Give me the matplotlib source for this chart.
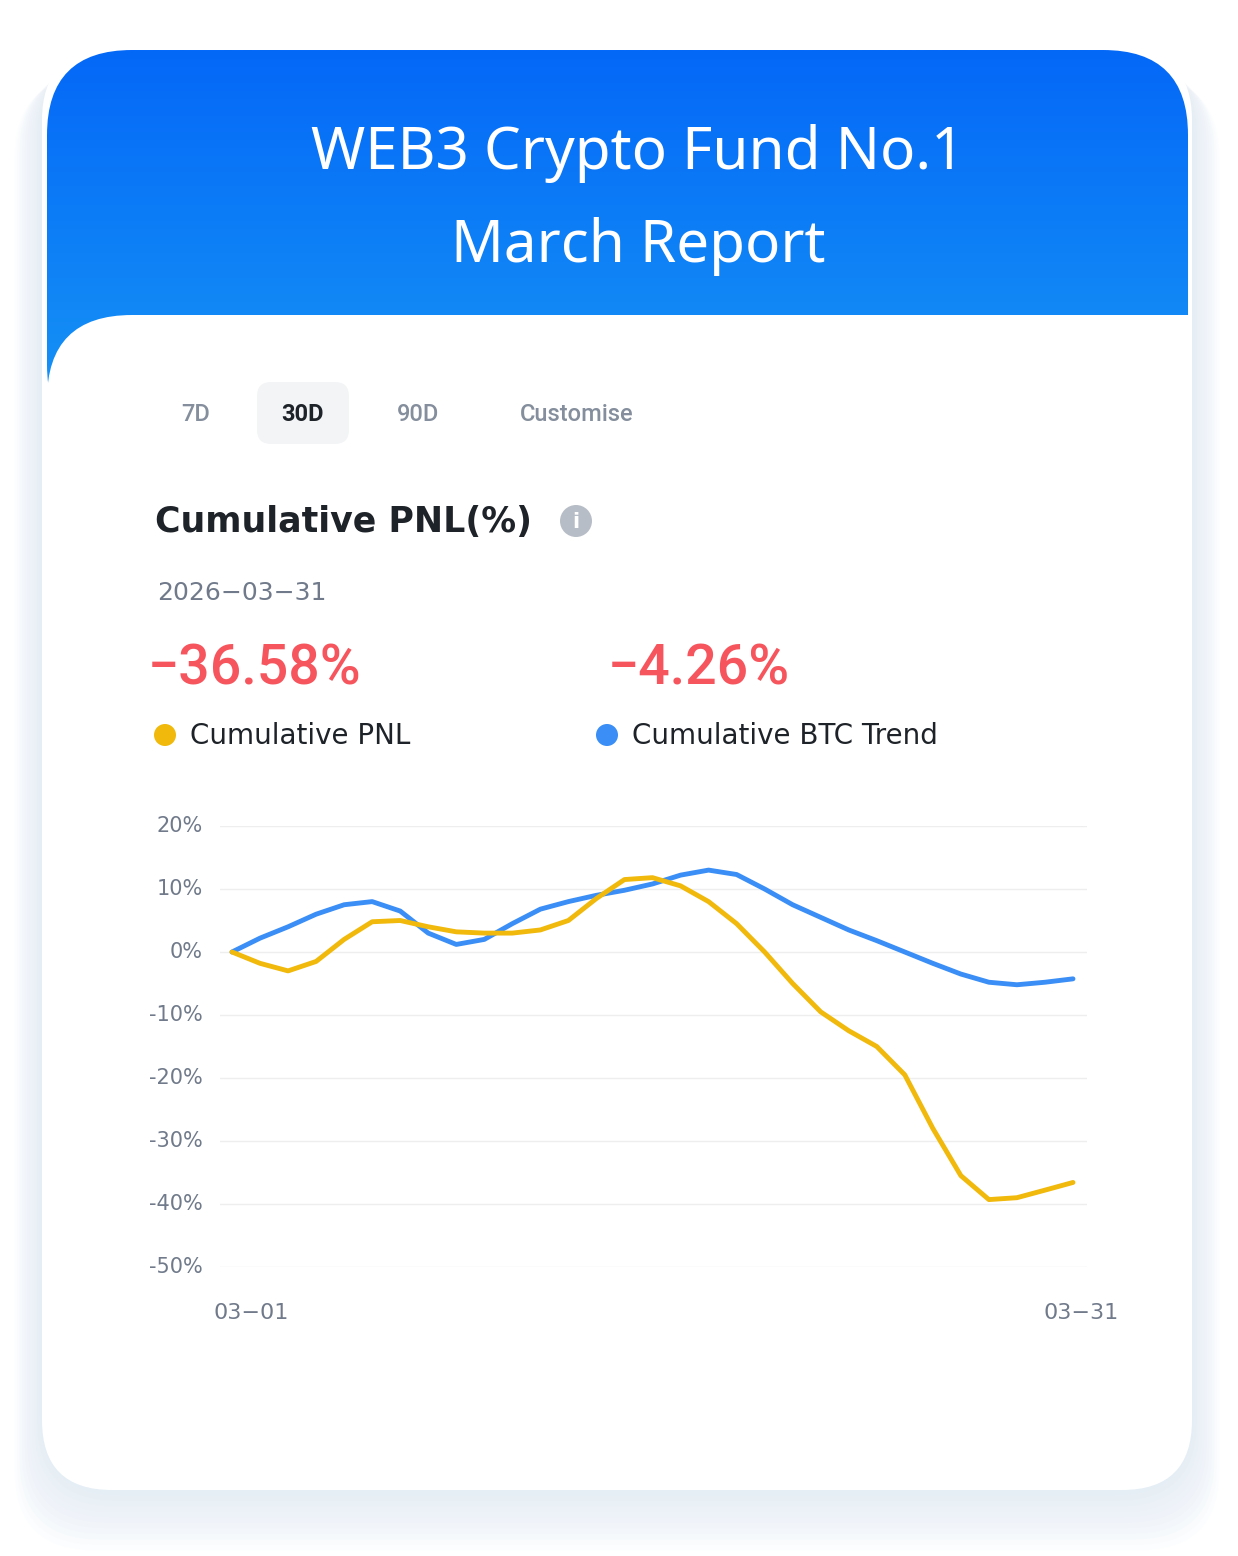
import matplotlib
matplotlib.use("Agg")
import matplotlib.pyplot as plt
import numpy as np
from matplotlib.patches import FancyBboxPatch, Circle, Rectangle
from matplotlib.colors import LinearSegmentedColormap

days = list(range(1, 32))
pnl = [0, -1.8, -3, -1.5, 2, 4.8, 5, 4, 3.2, 3, 3, 3.5, 5, 8.5, 11.5, 11.8, 10.5, 8, 4.5, 0,
       -5, -9.5, -12.5, -15, -19.5, -28, -35.5, -39.3, -39, -37.8, -36.58]
btc = [0, 2.2, 4, 6, 7.5, 8, 6.5, 3, 1.2, 2, 4.5, 6.8, 8, 9, 9.8, 10.8, 12.2, 13, 12.3, 10,
       7.5, 5.5, 3.5, 1.8, 0, -1.8, -3.5, -4.8, -5.2, -4.8, -4.26]
yticks = [20, 10, 0, -10, -20, -30, -40, -50]
tabs = ["7D", "30D", "90D", "Customise"]

W, H = 1238, 1556
fig = plt.figure(figsize=(W/100, H/100), dpi=100)
bg = fig.add_axes([0, 0, 1, 1])
bg.set_xlim(0, W); bg.set_ylim(H, 0); bg.axis("off")

for i in range(12):
    p = FancyBboxPatch((42-i*2.5, 50+i*2.5), 1150+i*5, 1440+i*3, boxstyle="round,pad=0,rounding_size=80",
                       fc="#8fc0f5", ec="none", alpha=0.02, zorder=1)
    bg.add_patch(p)
card = FancyBboxPatch((42, 50), 1150, 1440, boxstyle="round,pad=0,rounding_size=70",
                      fc="white", ec="none", zorder=2)
bg.add_patch(card)
grad = np.linspace(0, 1, 256).reshape(-1, 1)
cm = LinearSegmentedColormap.from_list("g", ["#0468f8", "#1693f5"])
im = bg.imshow(grad, cmap=cm, extent=(47, 1188, 400, 50), aspect="auto", zorder=3)
hdr = FancyBboxPatch((47, 50), 1141, 400, boxstyle="round,pad=0,rounding_size=85",
                     fc="none", ec="none", zorder=3)
bg.add_patch(hdr)
im.set_clip_path(hdr)
bg.add_patch(FancyBboxPatch((47, 315), 300, 300, boxstyle="round,pad=0,rounding_size=85",
                            fc="white", ec="none", zorder=4))
bg.add_patch(Rectangle((200, 315), 992, 300, fc="white", ec="none", zorder=4))
bg.add_patch(Rectangle((47, 500), 1145, 200, fc="white", ec="none", zorder=4))

bg.text(638, 153, "WEB3 Crypto Fund No.1", color="white", fontsize=42, ha="center", va="center",
        family="Noto Sans", weight="medium", zorder=5)
bg.text(638, 246, "March Report", color="white", fontsize=42, ha="center", va="center",
        family="Noto Sans", weight="medium", zorder=5)

bg.add_patch(FancyBboxPatch((257, 382), 92, 62, boxstyle="round,pad=0,rounding_size=14",
                            fc="#f3f4f6", ec="none", zorder=5))
for t, x in zip(tabs, [196, 303, 418, 577]):
    sel = t == "30D"
    bg.text(x, 414, t, ha="center", va="center", fontsize=17, zorder=6, family="Roboto",
            color="#1e2329" if sel else "#848e9c", weight="bold" if sel else "medium")

bg.text(155, 522, "Cumulative PNL(%)", fontsize=25, weight="bold", color="#1e2329", va="center", zorder=6)
bg.add_patch(Circle((576, 521), 16, fc="#b7bdc6", ec="none", zorder=6))
bg.text(576, 522, "i", fontsize=15, weight="bold", color="white", ha="center", va="center", zorder=7)
bg.text(157, 593, "2026\u221203\u221231", fontsize=18, color="#707a8a", va="center", zorder=6)
bg.text(148, 669, "\u221236.58%", fontsize=40, color="#f6555d", va="center", zorder=6,
        family="Roboto", weight="medium")
bg.text(608, 669, "\u22124.26%", fontsize=40, color="#f6555d", va="center", zorder=6,
        family="Roboto", weight="medium")
bg.add_patch(Circle((165, 735), 11, fc="#f0b90b", ec="none", zorder=6))
bg.add_patch(Circle((607, 735), 11, fc="#3a8ef5", ec="none", zorder=6))
bg.text(190, 736, "Cumulative PNL", fontsize=20, color="#1e2329", va="center", zorder=6)
bg.text(632, 736, "Cumulative BTC Trend", fontsize=20, color="#1e2329", va="center", zorder=6)

for v in yticks:
    y = 826 + (20 - v) * 6.3
    bg.text(203, y, f"{v}%", ha="right", va="center", fontsize=15, color="#707a8a", zorder=6)
bg.text(251, 1313, "03\u221201", ha="center", va="center", fontsize=16, color="#707a8a", zorder=6)
bg.text(1081, 1313, "03\u221231", ha="center", va="center", fontsize=16, color="#707a8a", zorder=6)

ax = fig.add_axes([220/W, 1-1267/H, 867/W, 441/H])
ax.set_zorder(5)
ax.set_xlim(1 - 12/28.03, 31 + 14/28.03)
ax.set_ylim(-50, 20)
ax.patch.set_alpha(0)
for s in ax.spines.values(): s.set_visible(False)
ax.set_xticks([]); ax.set_yticks(yticks); ax.set_yticklabels([])
ax.tick_params(length=0)
ax.grid(axis="y", color="#eeeeee", lw=1)
ax.plot(days, btc, color="#3a8ef5", lw=3.5, solid_joinstyle="round", solid_capstyle="round")
ax.plot(days, pnl, color="#f0b90b", lw=3.5, solid_joinstyle="round", solid_capstyle="round")

fig.savefig("out.png", dpi=100)
